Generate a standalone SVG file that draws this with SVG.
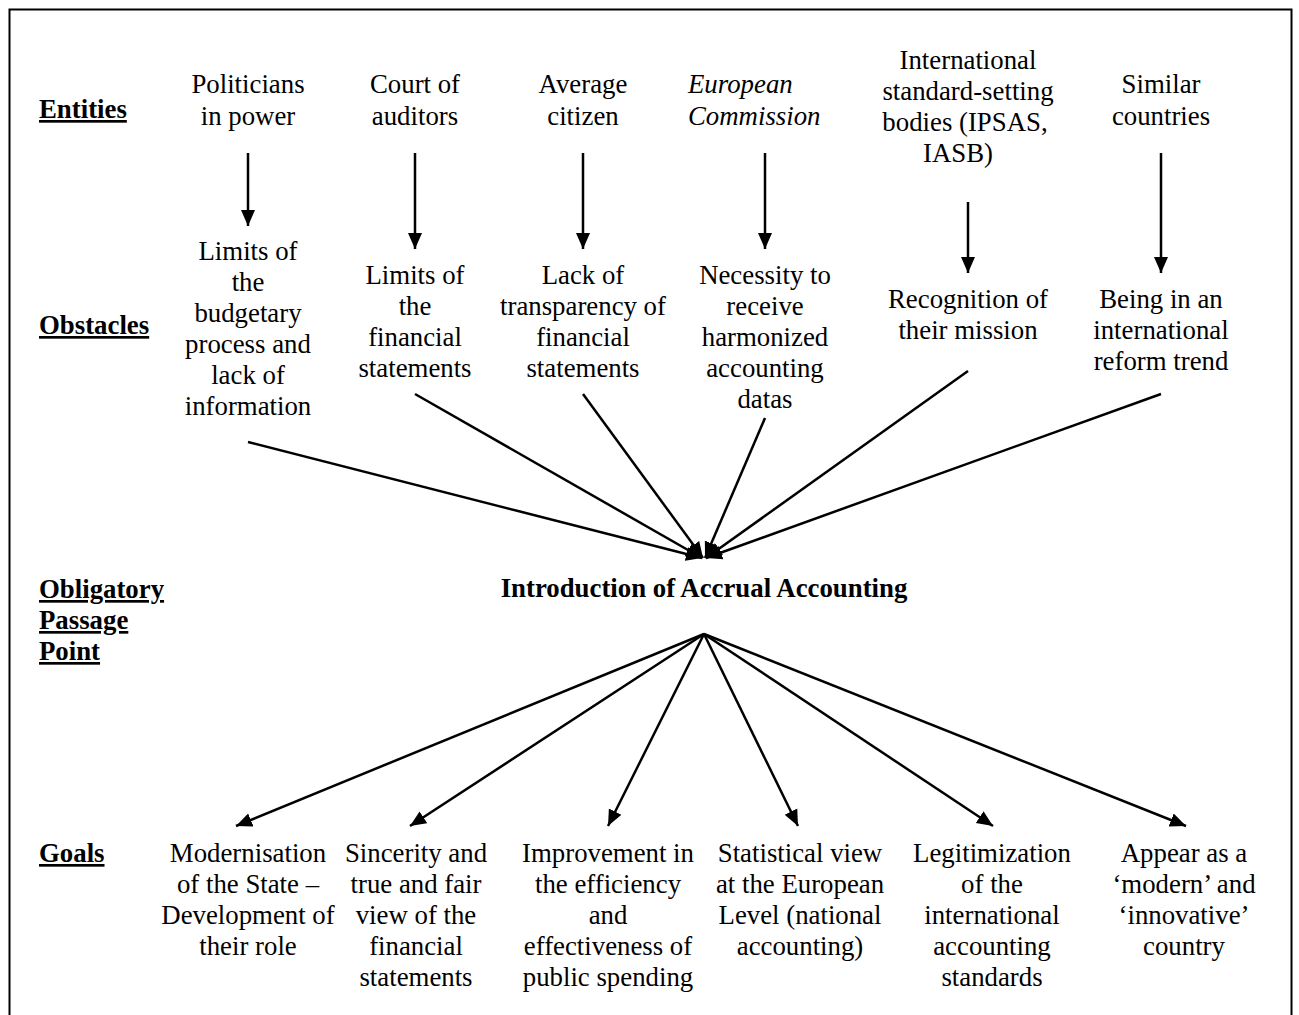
<svg xmlns="http://www.w3.org/2000/svg" width="1299" height="1015" viewBox="0 0 1299 1015">
<style>
text{font-family:"Liberation Serif","Times New Roman",serif;font-size:26.8px;fill:#000}
.c{text-anchor:middle}
.h{font-weight:bold;text-decoration:underline}
.b{font-weight:bold}
.i{font-style:italic}
.ln{stroke:#000;stroke-width:2.5;fill:none;marker-end:url(#ah)}
</style>
<defs>
<marker id="ah" viewBox="0 0 16 16" refX="16" refY="8" markerWidth="16" markerHeight="16" markerUnits="userSpaceOnUse" orient="auto">
<path d="M0,1 L16,8 L0,15 z" fill="#000"/>
</marker>
</defs>
<rect x="9.5" y="9.5" width="1282" height="1100" fill="none" stroke="#000" stroke-width="2"/>
<g id="labels">
<text class="h" x="39" y="118">Entities</text>
<text class="h" x="39" y="334">Obstacles</text>
<text class="h" x="39" y="598">Obligatory</text>
<text class="h" x="39" y="629">Passage</text>
<text class="h" x="39" y="660">Point</text>
<text class="h" x="39" y="862">Goals</text>
</g>
<g id="entity-politicians"><text class="c" x="248" y="93">Politicians</text><text class="c" x="248" y="125">in power</text></g>
<g id="entity-court"><text class="c" x="415" y="93">Court of</text><text class="c" x="415" y="125">auditors</text></g>
<g id="entity-citizen"><text class="c" x="583" y="93">Average</text><text class="c" x="583" y="125">citizen</text></g>
<g id="entity-commission"><text class="i" x="688" y="93">European</text><text class="i" x="688" y="125">Commission</text></g>
<g id="entity-standard"><text class="c" x="968" y="69">International</text><text class="c" x="968" y="100">standard-setting</text><text class="c" x="965" y="131">bodies (IPSAS,</text><text class="c" x="958" y="162">IASB)</text></g>
<g id="entity-countries"><text class="c" x="1161" y="93">Similar</text><text class="c" x="1161" y="125">countries</text></g>
<g id="obstacle-1"><text class="c" x="248" y="260">Limits of</text><text class="c" x="248" y="291">the</text><text class="c" x="248" y="322">budgetary</text><text class="c" x="248" y="353">process and</text><text class="c" x="248" y="384">lack of</text><text class="c" x="248" y="415">information</text></g>
<g id="obstacle-2"><text class="c" x="415" y="284">Limits of</text><text class="c" x="415" y="315">the</text><text class="c" x="415" y="346">financial</text><text class="c" x="415" y="377">statements</text></g>
<g id="obstacle-3"><text class="c" x="583" y="284">Lack of</text><text class="c" x="583" y="315">transparency of</text><text class="c" x="583" y="346">financial</text><text class="c" x="583" y="377">statements</text></g>
<g id="obstacle-4"><text class="c" x="765" y="284">Necessity to</text><text class="c" x="765" y="315">receive</text><text class="c" x="765" y="346">harmonized</text><text class="c" x="765" y="377">accounting</text><text class="c" x="765" y="408">datas</text></g>
<g id="obstacle-5"><text class="c" x="968" y="308">Recognition of</text><text class="c" x="968" y="339">their mission</text></g>
<g id="obstacle-6"><text class="c" x="1161" y="308">Being in an</text><text class="c" x="1161" y="339">international</text><text class="c" x="1161" y="370">reform trend</text></g>
<g id="opp"><text class="c b" x="704" y="597">Introduction of Accrual Accounting</text></g>
<g id="goal-1"><text class="c" x="248" y="862">Modernisation</text><text class="c" x="248" y="893">of the State –</text><text class="c" x="248" y="924">Development of</text><text class="c" x="248" y="955">their role</text></g>
<g id="goal-2"><text class="c" x="416" y="862">Sincerity and</text><text class="c" x="416" y="893">true and fair</text><text class="c" x="416" y="924">view of the</text><text class="c" x="416" y="955">financial</text><text class="c" x="416" y="986">statements</text></g>
<g id="goal-3"><text class="c" x="608" y="862">Improvement in</text><text class="c" x="608" y="893">the efficiency</text><text class="c" x="608" y="924">and</text><text class="c" x="608" y="955">effectiveness of</text><text class="c" x="608" y="986">public spending</text></g>
<g id="goal-4"><text class="c" x="800" y="862">Statistical view</text><text class="c" x="800" y="893">at the European</text><text class="c" x="800" y="924">Level (national</text><text class="c" x="800" y="955">accounting)</text></g>
<g id="goal-5"><text class="c" x="992" y="862">Legitimization</text><text class="c" x="992" y="893">of the</text><text class="c" x="992" y="924">international</text><text class="c" x="992" y="955">accounting</text><text class="c" x="992" y="986">standards</text></g>
<g id="goal-6"><text class="c" x="1184" y="862">Appear as a</text><text class="c" x="1184" y="893">‘modern’ and</text><text class="c" x="1184" y="924">‘innovative’</text><text class="c" x="1184" y="955">country</text></g>
<g id="connectors">
<line class="ln" x1="248" y1="153" x2="248" y2="226"/>
<line class="ln" x1="415" y1="153" x2="415" y2="249"/>
<line class="ln" x1="583" y1="153" x2="583" y2="249"/>
<line class="ln" x1="765" y1="153" x2="765" y2="249"/>
<line class="ln" x1="968" y1="202" x2="968" y2="273"/>
<line class="ln" x1="1161" y1="153" x2="1161" y2="273"/>
<line class="ln" x1="248" y1="442" x2="702" y2="558"/>
<line class="ln" x1="415" y1="394" x2="702" y2="558"/>
<line class="ln" x1="583" y1="394" x2="703" y2="558"/>
<line class="ln" x1="765" y1="418" x2="705" y2="558"/>
<line class="ln" x1="968" y1="371" x2="706" y2="558"/>
<line class="ln" x1="1161" y1="394" x2="706" y2="558"/>
<line class="ln" x1="704" y1="634" x2="236" y2="826"/>
<line class="ln" x1="704" y1="634" x2="410" y2="826"/>
<line class="ln" x1="704" y1="634" x2="608" y2="826"/>
<line class="ln" x1="704" y1="634" x2="798" y2="826"/>
<line class="ln" x1="704" y1="634" x2="993" y2="826"/>
<line class="ln" x1="704" y1="634" x2="1186" y2="826"/>
</g>
</svg>
